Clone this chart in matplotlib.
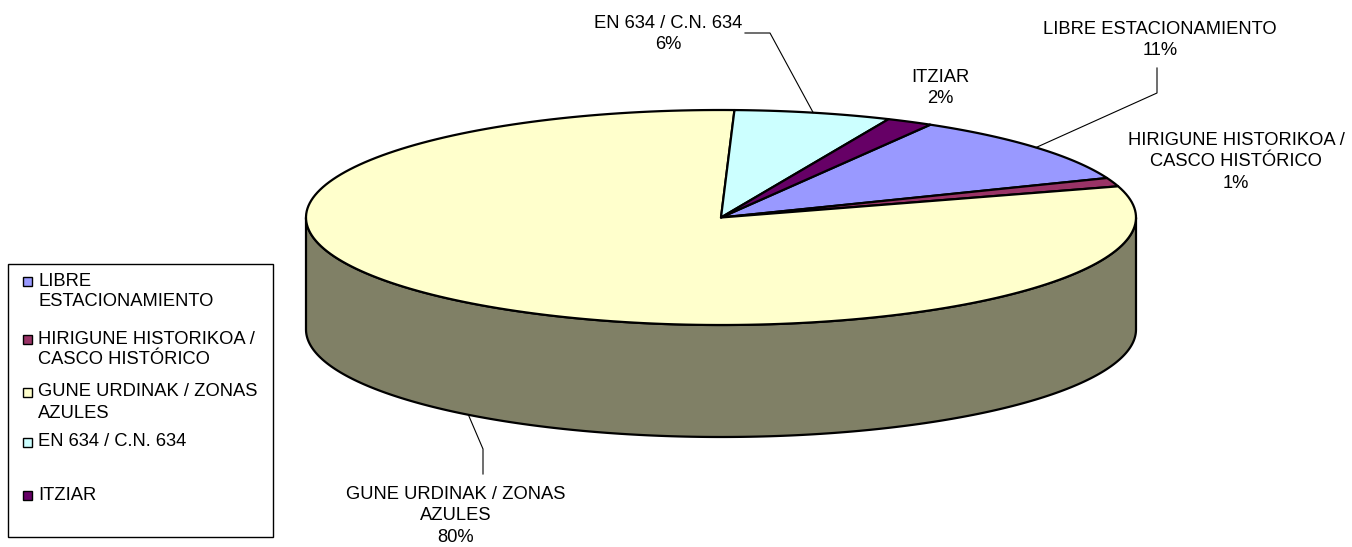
import numpy as np
import matplotlib
matplotlib.use("Agg")
import matplotlib.pyplot as plt
from matplotlib.patches import Polygon, Rectangle
from matplotlib.colors import to_rgb

# data (share of parking places, %)
categories = ["LIBRE ESTACIONAMIENTO", "HIRIGUNE HISTORIKOA / CASCO HISTÓRICO",
              "GUNE URDINAK / ZONAS AZULES", "EN 634 / C.N. 634", "ITZIAR"]
values = [10.6, 1.3, 80.2, 6.1, 1.8]
colors = ["#9999FF", "#993366", "#FFFFCC", "#CCFFFF", "#660066"]
legend_labels = ["LIBRE\nESTACIONAMIENTO", "HIRIGUNE HISTORIKOA /\nCASCO HISTÓRICO",
                 "GUNE URDINAK / ZONAS\nAZULES", "EN 634 / C.N. 634", "ITZIAR"]
slice_labels = ["LIBRE ESTACIONAMIENTO", "HIRIGUNE HISTORIKOA /\nCASCO HISTÓRICO",
                "GUNE URDINAK / ZONAS\nAZULES", "EN 634 / C.N. 634", "ITZIAR"]

# layout (pixels, y down)
cx, cy, rx, ry, depth = 721, 217.5, 415, 107.5, 112
start_angle = 59.7
label_pos = [(1160, 40), (1236, 162), (456, 516), (668, 34), (940, 88)]
leader_elbows = [[(1157, 68), (1157, 93)], None, [(483, 474), (483, 449)],
                 [(745, 33), (770, 33)], None]
legend_rows = [281, 339, 392, 442, 495]

plt.rcParams["font.family"] = ["Liberation Sans", "DejaVu Sans"]
fig = plt.figure(figsize=(13.52, 5.47), dpi=100)
ax = fig.add_axes([0, 0, 1, 1])
ax.set_xlim(0, 1352)
ax.set_ylim(547, 0)
ax.axis("off")


def pt(a, dz=0):
    r = np.radians(a)
    return cx + rx * np.cos(r), cy - ry * np.sin(r) + dz


def arc(a1, a2, dz=0, n=200):
    ts = np.linspace(a1, a2, n)
    return [pt(t, dz) for t in ts]


total = sum(values)
sweeps = [v / total * 360 for v in values]
bounds = []
a = start_angle
for s in sweeps:
    bounds.append((a, a - s))
    a -= s

# side walls (front half only)
for (a1, a2), col in zip(bounds, colors):
    dark = tuple(c * 0.5 for c in to_rgb(col))
    for lo, hi in [(-180, 0), (180, 360), (-540, -360)]:
        s_hi, s_lo = min(a1, hi), max(a2, lo)
        if s_hi > s_lo:
            top = arc(s_hi, s_lo)
            bot = arc(s_lo, s_hi, depth)
            ax.add_patch(Polygon(top + bot, closed=True, facecolor=dark,
                                 edgecolor="black", linewidth=1.6, zorder=1))

# top wedges
for (a1, a2), col in zip(bounds, colors):
    poly = [(cx, cy)] + arc(a1, a2)
    ax.add_patch(Polygon(poly, closed=True, facecolor=col, edgecolor="black",
                         linewidth=1.6, joinstyle="round", zorder=2))

# data labels
fs = 13.2
for i, (lab, v) in enumerate(zip(slice_labels, values)):
    x, y = label_pos[i]
    ax.text(x, y, f"{lab}\n{round(v):.0f}%", ha="center", va="center",
            fontsize=fs, linespacing=1.33, zorder=5)
    if leader_elbows[i] is not None:
        a1, a2 = bounds[i]
        mid = (a1 + a2) / 2
        m = np.radians(mid)
        dz = depth if np.sin(m) < 0 else 0
        end = pt(mid, dz)
        pts = leader_elbows[i] + [end]
        ax.plot([p[0] for p in pts], [p[1] for p in pts], color="black",
                linewidth=0.8, zorder=4)

# legend box
ax.add_patch(Rectangle((8, 264), 265, 273, facecolor="white", edgecolor="black",
                       linewidth=1.0, zorder=3))
for lab, col, y in zip(legend_labels, colors, legend_rows):
    ax.add_patch(Rectangle((23, y - 4.5), 9, 9, facecolor=col,
                           edgecolor="black", linewidth=1.0, zorder=4))
    for j, line in enumerate(lab.split("\n")):
        ax.text(38, y + j * 21, line, ha="left", va="center", fontsize=fs,
                zorder=4)

fig.savefig("out.png", dpi=100)
